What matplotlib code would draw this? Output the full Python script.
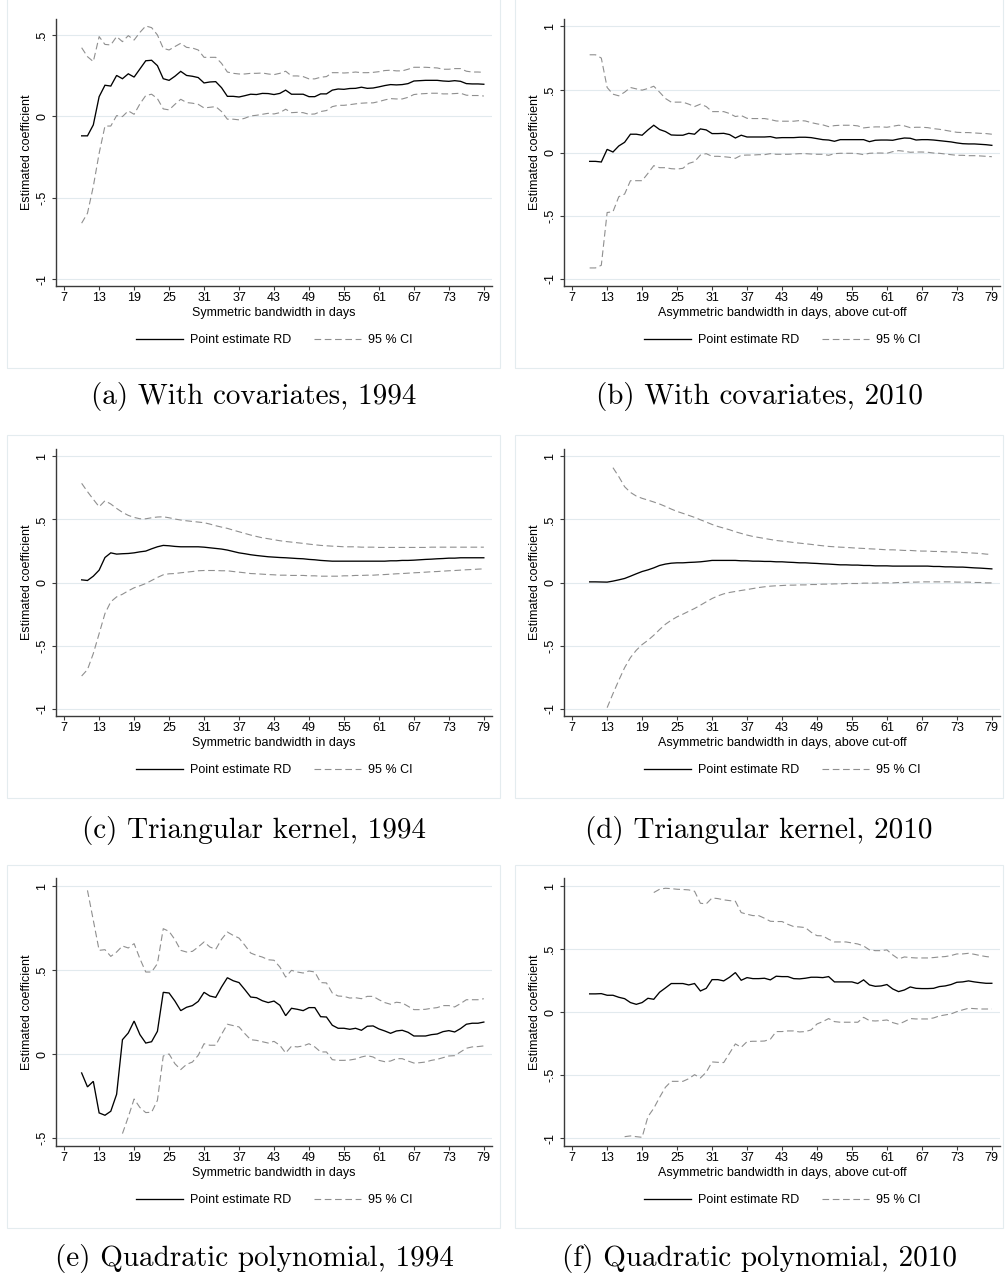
import numpy as np
import matplotlib
matplotlib.use('Agg')
import matplotlib.pyplot as plt
from matplotlib.patches import Rectangle

# Bandwidth in days (x values of every series)
days = list(range(10, 80))
N = None  # not shown (outside the plotted range)

# (a) With covariates, 1994
a_est = [-0.12, -0.12, -0.053, 0.12, 0.19, 0.185, 0.25, 0.23, 0.26, 0.24,
         0.29, 0.34, 0.343, 0.31, 0.23, 0.22, 0.245, 0.275, 0.25, 0.245,
         0.237, 0.204, 0.21, 0.212, 0.175, 0.122, 0.122, 0.118, 0.126, 0.135,
         0.133, 0.14, 0.139, 0.133, 0.14, 0.16, 0.135, 0.135, 0.135, 0.12,
         0.12, 0.137, 0.137, 0.16, 0.167, 0.165, 0.17, 0.171, 0.178, 0.171,
         0.173, 0.18, 0.188, 0.194, 0.192, 0.194, 0.2, 0.216, 0.218, 0.22,
         0.22, 0.22, 0.216, 0.214, 0.218, 0.214, 0.2, 0.198, 0.198, 0.196]
a_hi = [0.42, 0.365, 0.335, 0.488, 0.44, 0.437, 0.488, 0.457, 0.494, 0.467,
        0.514, 0.553, 0.543, 0.498, 0.416, 0.406, 0.427, 0.447, 0.422, 0.418,
        0.406, 0.361, 0.361, 0.361, 0.324, 0.271, 0.263, 0.259, 0.259, 0.263,
        0.263, 0.265, 0.259, 0.255, 0.263, 0.276, 0.247, 0.247, 0.243, 0.229,
        0.229, 0.239, 0.243, 0.267, 0.267, 0.265, 0.267, 0.271, 0.267, 0.267,
        0.269, 0.273, 0.28, 0.282, 0.278, 0.278, 0.288, 0.3, 0.3, 0.3,
        0.298, 0.296, 0.288, 0.288, 0.292, 0.292, 0.276, 0.271, 0.271, 0.269]
a_lo = [-0.655, -0.594, -0.43, -0.227, -0.06, -0.06, 0.004, -0.002, 0.033, 0.012,
        0.076, 0.127, 0.135, 0.108, 0.045, 0.039, 0.073, 0.104, 0.084, 0.08,
        0.073, 0.051, 0.055, 0.059, 0.029, -0.018, -0.018, -0.022, -0.012, 0.002,
        0.006, 0.012, 0.018, 0.014, 0.022, 0.043, 0.022, 0.024, 0.022, 0.012,
        0.014, 0.029, 0.035, 0.059, 0.067, 0.067, 0.071, 0.076, 0.08, 0.082,
        0.082, 0.09, 0.1, 0.108, 0.106, 0.106, 0.116, 0.133, 0.137, 0.139,
        0.141, 0.141, 0.137, 0.137, 0.139, 0.141, 0.129, 0.127, 0.127, 0.124]

# (b) With covariates, 2010
b_est = [-0.069, -0.069, -0.074, 0.026, 0.005, 0.053, 0.082, 0.146, 0.146, 0.138,
         0.18, 0.217, 0.183, 0.167, 0.14, 0.138, 0.138, 0.153, 0.146, 0.188,
         0.18, 0.151, 0.151, 0.153, 0.143, 0.116, 0.138, 0.124, 0.124, 0.124,
         0.124, 0.127, 0.116, 0.119, 0.119, 0.119, 0.122, 0.122, 0.119, 0.111,
         0.103, 0.1, 0.09, 0.103, 0.103, 0.103, 0.103, 0.103, 0.087, 0.098,
         0.1, 0.1, 0.098, 0.108, 0.116, 0.114, 0.1, 0.103, 0.103, 0.1,
         0.095, 0.09, 0.085, 0.077, 0.071, 0.069, 0.069, 0.066, 0.063, 0.058]
b_hi = [0.775, 0.775, 0.749, 0.516, 0.463, 0.45, 0.479, 0.516, 0.505, 0.495,
        0.508, 0.526, 0.479, 0.429, 0.4, 0.4, 0.4, 0.384, 0.365, 0.384,
        0.365, 0.325, 0.325, 0.325, 0.31, 0.286, 0.294, 0.272, 0.27, 0.27,
        0.27, 0.262, 0.251, 0.249, 0.249, 0.249, 0.254, 0.251, 0.238, 0.228,
        0.22, 0.206, 0.214, 0.217, 0.217, 0.217, 0.212, 0.196, 0.201, 0.204,
        0.204, 0.201, 0.209, 0.217, 0.212, 0.198, 0.201, 0.201, 0.198, 0.19,
        0.185, 0.177, 0.169, 0.161, 0.159, 0.159, 0.156, 0.153, 0.151, 0.146]
b_lo = [-0.913, -0.913, -0.892, -0.474, -0.468, -0.349, -0.328, -0.222, -0.222, -0.222,
        -0.164, -0.103, -0.119, -0.119, -0.127, -0.13, -0.124, -0.085, -0.071, -0.019,
        -0.008, -0.029, -0.029, -0.032, -0.037, -0.045, -0.021, -0.019, -0.019, -0.016,
        -0.016, -0.008, -0.013, -0.013, -0.013, -0.011, -0.008, -0.008, -0.011, -0.013,
        -0.013, -0.021, -0.008, -0.005, -0.005, -0.005, -0.008, -0.016, -0.005, -0.003,
        -0.003, -0.005, 0.008, 0.016, 0.011, 0.003, 0.005, 0.005, 0.003, -0.003,
        -0.005, -0.011, -0.016, -0.021, -0.021, -0.024, -0.024, -0.026, -0.029, -0.032]

# (c) Triangular kernel, 1994
c_est = [0.021, 0.016, 0.05, 0.098, 0.198, 0.235, 0.225, 0.228, 0.23, 0.235,
         0.243, 0.249, 0.267, 0.283, 0.294, 0.291, 0.286, 0.283, 0.283, 0.283,
         0.283, 0.28, 0.275, 0.27, 0.265, 0.257, 0.246, 0.235, 0.228, 0.22,
         0.214, 0.209, 0.204, 0.201, 0.198, 0.196, 0.193, 0.19, 0.188, 0.183,
         0.18, 0.175, 0.172, 0.169, 0.169, 0.169, 0.169, 0.169, 0.169, 0.169,
         0.169, 0.169, 0.169, 0.172, 0.172, 0.175, 0.175, 0.177, 0.18, 0.183,
         0.185, 0.188, 0.19, 0.193, 0.193, 0.196, 0.196, 0.196, 0.196, 0.196]
c_hi = [0.786, 0.72, 0.659, 0.6, 0.648, 0.622, 0.587, 0.556, 0.532, 0.516,
        0.505, 0.505, 0.513, 0.519, 0.521, 0.513, 0.503, 0.495, 0.489, 0.484,
        0.479, 0.474, 0.463, 0.45, 0.439, 0.429, 0.415, 0.402, 0.389, 0.376,
        0.365, 0.354, 0.347, 0.339, 0.331, 0.325, 0.32, 0.315, 0.31, 0.304,
        0.299, 0.294, 0.291, 0.288, 0.286, 0.283, 0.283, 0.283, 0.28, 0.28,
        0.28, 0.278, 0.278, 0.278, 0.278, 0.278, 0.278, 0.278, 0.278, 0.278,
        0.28, 0.28, 0.28, 0.28, 0.28, 0.28, 0.28, 0.28, 0.28, 0.28]
c_lo = [-0.741, -0.69, -0.563, -0.405, -0.246, -0.153, -0.114, -0.093, -0.066, -0.042,
        -0.026, -0.008, 0.016, 0.04, 0.061, 0.069, 0.071, 0.077, 0.082, 0.087,
        0.093, 0.095, 0.095, 0.095, 0.093, 0.093, 0.087, 0.082, 0.077, 0.071,
        0.069, 0.066, 0.063, 0.061, 0.058, 0.058, 0.056, 0.056, 0.056, 0.053,
        0.053, 0.05, 0.05, 0.05, 0.05, 0.053, 0.053, 0.056, 0.056, 0.058,
        0.058, 0.061, 0.063, 0.066, 0.069, 0.071, 0.074, 0.077, 0.079, 0.082,
        0.085, 0.087, 0.09, 0.093, 0.095, 0.098, 0.101, 0.103, 0.106, 0.108]

# (d) Triangular kernel, 2010
d_est = [0.005, 0.005, 0.004, 0.003, 0.011, 0.021, 0.032, 0.05, 0.069, 0.087,
         0.1, 0.116, 0.135, 0.146, 0.153, 0.156, 0.156, 0.159, 0.161, 0.164,
         0.169, 0.175, 0.175, 0.175, 0.175, 0.175, 0.172, 0.172, 0.169, 0.169,
         0.167, 0.167, 0.164, 0.164, 0.161, 0.159, 0.156, 0.156, 0.153, 0.151,
         0.148, 0.146, 0.143, 0.14, 0.14, 0.138, 0.138, 0.135, 0.135, 0.132,
         0.132, 0.132, 0.13, 0.13, 0.13, 0.13, 0.13, 0.13, 0.13, 0.127,
         0.127, 0.124, 0.124, 0.122, 0.122, 0.119, 0.116, 0.114, 0.111, 0.108]
d_hi = [N, N, N, N, 0.91, 0.839, 0.759, 0.714, 0.685, 0.667,
        0.653, 0.638, 0.622, 0.603, 0.582, 0.563, 0.548, 0.532, 0.516, 0.497,
        0.479, 0.46, 0.444, 0.431, 0.418, 0.402, 0.389, 0.376, 0.365, 0.357,
        0.349, 0.341, 0.333, 0.328, 0.323, 0.317, 0.312, 0.307, 0.302, 0.296,
        0.291, 0.286, 0.283, 0.28, 0.278, 0.275, 0.272, 0.27, 0.267, 0.265,
        0.262, 0.259, 0.259, 0.257, 0.254, 0.254, 0.251, 0.249, 0.249, 0.246,
        0.246, 0.243, 0.243, 0.241, 0.238, 0.235, 0.233, 0.23, 0.225, 0.222]
d_lo = [N, N, N, -0.992, -0.881, -0.775, -0.675, -0.595, -0.537, -0.492,
        -0.458, -0.418, -0.373, -0.331, -0.299, -0.272, -0.251, -0.228, -0.206, -0.18,
        -0.153, -0.127, -0.106, -0.09, -0.079, -0.071, -0.063, -0.056, -0.048, -0.04,
        -0.034, -0.029, -0.026, -0.024, -0.021, -0.021, -0.019, -0.019, -0.016, -0.016,
        -0.013, -0.013, -0.011, -0.011, -0.008, -0.008, -0.008, -0.005, -0.005, -0.005,
        -0.003, -0.003, -0.003, 0.0, 0.0, 0.003, 0.003, 0.005, 0.005, 0.005,
        0.005, 0.005, 0.005, 0.003, 0.003, 0.003, 0.0, 0.0, -0.003, -0.003]

# (e) Quadratic polynomial, 1994
e_est = [-0.111, -0.194, -0.161, -0.349, -0.363, -0.339, -0.238, 0.087, 0.127, 0.198,
         0.117, 0.067, 0.075, 0.137, 0.369, 0.365, 0.317, 0.26, 0.28, 0.29,
         0.315, 0.369, 0.347, 0.339, 0.401, 0.456, 0.438, 0.427, 0.385, 0.341,
         0.337, 0.319, 0.308, 0.317, 0.292, 0.23, 0.274, 0.268, 0.26, 0.278,
         0.278, 0.224, 0.222, 0.173, 0.155, 0.155, 0.149, 0.155, 0.143, 0.167,
         0.169, 0.151, 0.139, 0.125, 0.139, 0.143, 0.131, 0.109, 0.109, 0.109,
         0.117, 0.121, 0.135, 0.141, 0.133, 0.153, 0.179, 0.185, 0.185, 0.192]
e_hi = [N, 0.976, 0.798, 0.619, 0.623, 0.583, 0.609, 0.645, 0.633, 0.659,
        0.569, 0.49, 0.49, 0.54, 0.748, 0.732, 0.683, 0.619, 0.609, 0.613,
        0.639, 0.669, 0.639, 0.625, 0.685, 0.728, 0.708, 0.692, 0.649, 0.603,
        0.589, 0.579, 0.563, 0.56, 0.52, 0.46, 0.5, 0.49, 0.484, 0.496,
        0.49, 0.427, 0.425, 0.365, 0.347, 0.345, 0.335, 0.337, 0.331, 0.345,
        0.345, 0.325, 0.308, 0.298, 0.31, 0.306, 0.286, 0.266, 0.266, 0.268,
        0.274, 0.278, 0.29, 0.29, 0.282, 0.302, 0.325, 0.325, 0.325, 0.331]
e_lo = [N, N, N, N, N, N, N, -0.472, -0.373, -0.266,
        -0.317, -0.347, -0.345, -0.274, -0.01, 0.002, -0.056, -0.091, -0.06, -0.046,
        -0.006, 0.063, 0.054, 0.054, 0.119, 0.179, 0.171, 0.163, 0.123, 0.087,
        0.083, 0.075, 0.067, 0.077, 0.054, 0.008, 0.048, 0.044, 0.05, 0.063,
        0.044, 0.014, 0.014, -0.032, -0.036, -0.036, -0.034, -0.028, -0.016, -0.008,
        -0.016, -0.036, -0.044, -0.04, -0.026, -0.026, -0.04, -0.052, -0.05, -0.046,
        -0.036, -0.03, -0.02, -0.01, -0.008, 0.014, 0.036, 0.044, 0.046, 0.05]

# (f) Quadratic polynomial, 2010
f_est = [0.146, 0.146, 0.148, 0.135, 0.135, 0.119, 0.108, 0.077, 0.063, 0.077,
         0.111, 0.103, 0.159, 0.193, 0.228, 0.228, 0.228, 0.217, 0.228, 0.169,
         0.19, 0.259, 0.259, 0.249, 0.278, 0.315, 0.254, 0.275, 0.267, 0.267,
         0.27, 0.257, 0.286, 0.283, 0.283, 0.267, 0.265, 0.27, 0.278, 0.278,
         0.275, 0.283, 0.241, 0.241, 0.241, 0.241, 0.228, 0.257, 0.217, 0.206,
         0.209, 0.22, 0.185, 0.164, 0.177, 0.201, 0.19, 0.188, 0.188, 0.19,
         0.204, 0.209, 0.22, 0.238, 0.241, 0.249, 0.241, 0.235, 0.23, 0.23]
f_hi = [N, N, N, N, N, N, N, N, N, N,
        N, 0.95, 0.976, 0.984, 0.981, 0.976, 0.974, 0.971, 0.96, 0.865,
        0.86, 0.907, 0.902, 0.892, 0.886, 0.881, 0.791, 0.778, 0.767, 0.767,
        0.746, 0.722, 0.72, 0.72, 0.698, 0.68, 0.677, 0.672, 0.635, 0.608,
        0.606, 0.579, 0.558, 0.558, 0.558, 0.55, 0.542, 0.526, 0.495, 0.489,
        0.489, 0.495, 0.455, 0.423, 0.439, 0.434, 0.431, 0.431, 0.431, 0.434,
        0.439, 0.442, 0.45, 0.463, 0.463, 0.468, 0.46, 0.45, 0.442, 0.437]
f_lo = [N, N, N, N, N, N, -0.987, -0.981, -0.987, -0.992,
        -0.828, -0.762, -0.675, -0.595, -0.548, -0.548, -0.548, -0.527, -0.495, -0.521,
        -0.476, -0.394, -0.397, -0.399, -0.325, -0.251, -0.278, -0.233, -0.23, -0.23,
        -0.228, -0.214, -0.153, -0.153, -0.148, -0.148, -0.156, -0.153, -0.14, -0.093,
        -0.074, -0.05, -0.074, -0.079, -0.079, -0.079, -0.079, -0.04, -0.066, -0.069,
        -0.066, -0.061, -0.082, -0.095, -0.074, -0.05, -0.053, -0.053, -0.053, -0.045,
        -0.029, -0.021, -0.013, 0.005, 0.019, 0.032, 0.029, 0.026, 0.026, 0.026]

x_ticks = list(range(7, 80, 6))
y_ticklabels = {-1: '-1', -0.5: '-.5', 0: '0', 0.5: '.5', 1: '1'}
xlab_sym = 'Symmetric bandwidth in days'
xlab_asym = 'Asymmetric bandwidth in days, above cut-off'
captions = ['(a) With covariates, 1994', '(b) With covariates, 2010',
            '(c) Triangular kernel, 1994', '(d) Triangular kernel, 2010',
            '(e) Quadratic polynomial, 1994', '(f) Quadratic polynomial, 2010']

plt.rcParams['font.family'] = ['Liberation Sans', 'DejaVu Sans']
plt.rcParams['lines.scale_dashes'] = False

W, H = 1005, 1276
fig = plt.figure(figsize=(W / 100, H / 100), dpi=100)


def frac(l, t, r, b):
    return [l / W, 1 - b / H, (r - l) / W, (b - t) / H]


# pixel layout: box left/right, axes left/right, caption centre x
cols = [(6.7, 500, 56, 492, 254), (514.7, 1003, 564, 1000, 759)]
# box top/bottom, axes top/bottom, caption centre y
rows = [(-5, 367.7, 19.3, 286, 396.7),
        (435, 797.7, 449, 716, 830.7),
        (865, 1227.7, 878.3, 1146, 1258.3)]

panels = [
    (a_est, a_lo, a_hi, (-1.04, 0.594), [-1, -0.5, 0, 0.5], xlab_sym),
    (b_est, b_lo, b_hi, (-1.056, 1.056), [-1, -0.5, 0, 0.5, 1], xlab_asym),
    (c_est, c_lo, c_hi, (-1.058, 1.058), [-1, -0.5, 0, 0.5, 1], xlab_sym),
    (d_est, d_lo, d_hi, (-1.058, 1.058), [-1, -0.5, 0, 0.5, 1], xlab_asym),
    (e_est, e_lo, e_hi, (-0.546, 1.048), [-0.5, 0, 0.5, 1], xlab_sym),
    (f_est, f_lo, f_hi, (-1.061, 1.063), [-1, -0.5, 0, 0.5, 1], xlab_asym),
]

fs = 9
axis_col = '#3a3a3a'
ci_col = '#8f8f8f'

for i, (est, lo, hi, ylim, yt, xlab) in enumerate(panels):
    bl, br, al, ar, cx = cols[i % 2]
    bt, bb, at, ab, cy = rows[i // 2]

    fig.add_artist(Rectangle((bl / W, 1 - bb / H), (br - bl) / W, (bb - bt) / H,
                             transform=fig.transFigure, fill=False,
                             ec='#E4ECEF', lw=0.8))

    ax = fig.add_axes(frac(al, at, ar, ab))
    x = np.array(days, dtype=float)
    est = np.array([np.nan if v is None else v for v in est], dtype=float)
    lo = np.array([np.nan if v is None else v for v in lo], dtype=float)
    hi = np.array([np.nan if v is None else v for v in hi], dtype=float)

    l_est, = ax.plot(x, est, color='black', lw=0.95, solid_joinstyle='miter')
    l_hi, = ax.plot(x, hi, color=ci_col, lw=0.8, dashes=(4.8, 2.6))
    ax.plot(x, lo, color=ci_col, lw=0.8, dashes=(4.8, 2.6))

    ax.set_xlim(5.6, 80.4)
    ax.set_ylim(*ylim)
    ax.set_xticks(x_ticks)
    ax.set_yticks(yt, [y_ticklabels[v] for v in yt], rotation=90, va='center')
    ax.yaxis.grid(True, color='#E2EAEE', lw=0.8)
    ax.set_axisbelow(True)
    for s in ['top', 'right']:
        ax.spines[s].set_visible(False)
    for s in ['left', 'bottom']:
        ax.spines[s].set_color(axis_col)
        ax.spines[s].set_linewidth(1.0)
    ax.tick_params(direction='out', length=3, width=0.8, color=axis_col,
                   labelsize=fs, labelcolor='black')
    ax.tick_params(axis='x', pad=1.5)
    ax.tick_params(axis='y', pad=2.5)

    h_ax = ab - at
    w_ax = ar - al
    ax.set_xlabel(xlab, fontsize=fs, va='center')
    ax.xaxis.set_label_coords(0.5, -(312.7 - 286) / h_ax)
    ax.set_ylabel('Estimated coefficient', fontsize=fs, va='center')
    ax.yaxis.set_label_coords((27 - 56) / w_ax, 0.5)

    ax.legend([l_est, l_hi], ['Point estimate RD', '95 % CI'], loc='center',
              bbox_to_anchor=(0.5, -(340 - 286) / h_ax), ncol=2, frameon=False,
              fontsize=fs, handlelength=3.75, handletextpad=0.59,
              columnspacing=1.8, borderpad=0, borderaxespad=0)

    fig.text(cx / W, 1 - cy / H, captions[i], ha='center', va='center',
             family='cmr10', fontsize=21)

fig.savefig('out.png', dpi=100)
